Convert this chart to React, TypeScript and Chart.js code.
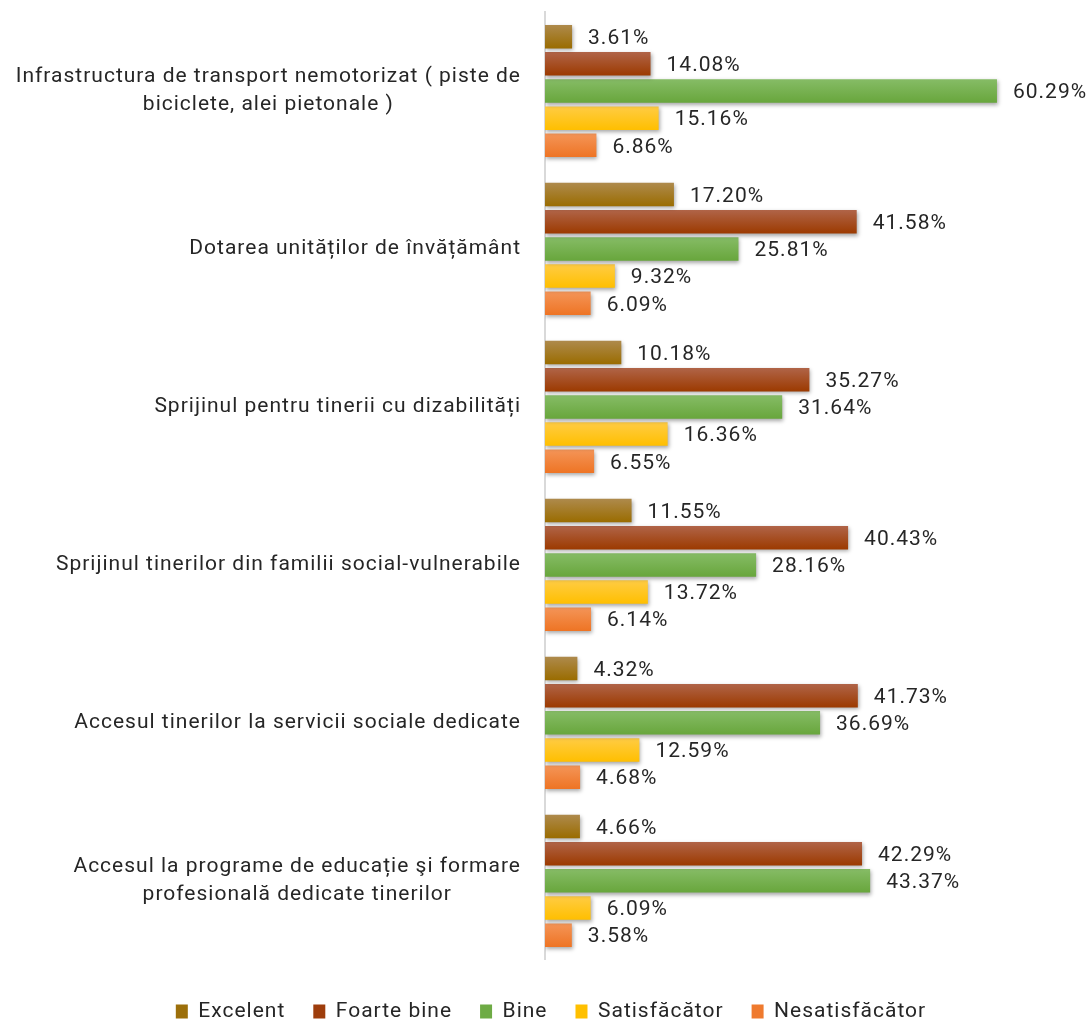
import React, { useEffect, useRef } from "react";
import { Chart, registerables } from "chart.js";

Chart.register(...registerables);

const categories: string[][] = [
  ["Infrastructura de transport nemotorizat ( piste de", "biciclete, alei pietonale )"],
  ["Dotarea unităților de învățământ"],
  ["Sprijinul pentru tinerii cu dizabilități"],
  ["Sprijinul tinerilor din familii social-vulnerabile"],
  ["Accesul tinerilor la servicii sociale dedicate"],
  ["Accesul la programe de educație şi formare", "profesională dedicate tinerilor"],
];

const seriesNames = ["Excelent", "Foarte bine", "Bine", "Satisfăcător", "Nesatisfăcător"];

const excelent = [3.61, 17.2, 10.18, 11.55, 4.32, 4.66];
const foarteBine = [14.08, 41.58, 35.27, 40.43, 41.73, 42.29];
const bine = [60.29, 25.81, 31.64, 28.16, 36.69, 43.37];
const satisfacator = [15.16, 9.32, 16.36, 13.72, 12.59, 6.09];
const nesatisfacator = [6.86, 6.09, 6.55, 6.14, 4.68, 3.58];

const seriesValues = [excelent, foarteBine, bine, satisfacator, nesatisfacator];

const solidColors = ["#9C6F0A", "#9E3D0C", "#6EAB45", "#FFC000", "#EF7A2E"];
const topColors = ["#AE8A4C", "#B06448", "#86BC66", "#FFCC44", "#F49558"];
const bottomColors = ["#9A6C00", "#9C3A00", "#68A63C", "#FFBF00", "#EE7424"];

const CAT_PCT = 0.86;
const BAR_PCT = 0.865;
const FONT = "Roboto";
const FONT_SIZE = 21;
const LINE_HEIGHT = 28;
const LABEL_PAD = 24;
const LETTER_SPACING = "1px";
const TEXT_COLOR = "#262626";

function gradientFor(i: number) {
  return (ctx: any) => {
    const chart = ctx.chart;
    const yScale = chart.scales && chart.scales.y;
    const area = chart.chartArea;
    if (!yScale || !area || ctx.type !== "data") return bottomColors[i];
    const n = chart.data.labels.length;
    const cat = (area.bottom - area.top) / n;
    const size = cat * CAT_PCT;
    const slot = size / seriesValues.length;
    const center = yScale.getPixelForValue(ctx.dataIndex) - size / 2 + (ctx.datasetIndex + 0.5) * slot;
    const h = slot * BAR_PCT;
    const g = chart.ctx.createLinearGradient(0, center - h / 2, 0, center + h / 2);
    g.addColorStop(0, topColors[i]);
    g.addColorStop(1, bottomColors[i]);
    return g;
  };
}

const spacingPlugin = {
  id: "letterSpacing",
  beforeInit(chart: any) {
    chart.ctx.letterSpacing = LETTER_SPACING;
  },
  beforeLayout(chart: any) {
    chart.ctx.letterSpacing = LETTER_SPACING;
  },
  beforeDraw(chart: any) {
    chart.ctx.letterSpacing = LETTER_SPACING;
  },
};

const shadowPlugin = {
  id: "barShadow",
  beforeDatasetsDraw(chart: any) {
    const c = chart.ctx;
    c.save();
    c.shadowColor = "rgba(0,0,0,0.35)";
    c.shadowBlur = 4;
    c.shadowOffsetX = 1;
    c.shadowOffsetY = 2;
  },
  afterDatasetsDraw(chart: any) {
    chart.ctx.restore();
  },
};

const valueLabelPlugin = {
  id: "valueLabels",
  afterDatasetsDraw(chart: any) {
    const c = chart.ctx;
    c.save();
    c.letterSpacing = LETTER_SPACING;
    c.font = `${FONT_SIZE}px ${FONT}`;
    c.fillStyle = TEXT_COLOR;
    c.textAlign = "left";
    c.textBaseline = "middle";
    chart.data.datasets.forEach((ds: any, di: number) => {
      const meta = chart.getDatasetMeta(di);
      meta.data.forEach((el: any, i: number) => {
        const v = ds.data[i] as number;
        c.fillText(v.toFixed(2) + "%", el.x + 16, el.y + 2);
      });
    });
    c.restore();
  },
};

// Category labels: block right-aligned to the axis, lines centred within the block
const categoryLabelPlugin = {
  id: "categoryLabels",
  afterDraw(chart: any) {
    const c = chart.ctx;
    const yScale = chart.scales.y;
    c.save();
    c.letterSpacing = LETTER_SPACING;
    c.font = `${FONT_SIZE}px ${FONT}`;
    c.fillStyle = TEXT_COLOR;
    c.textAlign = "center";
    c.textBaseline = "middle";
    const right = yScale.right - LABEL_PAD;
    (chart.data.labels as string[][]).forEach((lines, i) => {
      const cy = yScale.getPixelForValue(i);
      const maxW = Math.max(...lines.map((l) => c.measureText(l).width));
      lines.forEach((l, j) => {
        const y = cy + (j - (lines.length - 1) / 2) * LINE_HEIGHT;
        c.fillText(l, right - maxW / 2, y);
      });
    });
    c.restore();
  },
};

export default function App() {
  const ref = useRef<HTMLCanvasElement | null>(null);

  useEffect(() => {
    if (!ref.current) return;
    const chart = new Chart(ref.current, {
      type: "bar",
      data: {
        labels: categories,
        datasets: seriesNames.map((name, i) => ({
          label: name,
          data: seriesValues[i],
          backgroundColor: gradientFor(i),
          borderWidth: 0,
          categoryPercentage: CAT_PCT,
          barPercentage: BAR_PCT,
        })),
      },
      options: {
        indexAxis: "y",
        animation: false,
        responsive: true,
        maintainAspectRatio: false,
        layout: { padding: { top: 12, bottom: -10, left: 12, right: 1 } },
        scales: {
          x: { display: false, min: 0, max: 72.7 },
          y: {
            afterFit: (scale: any) => {
              scale.width = 533;
              scale.paddingTop = 0;
              scale.paddingBottom = 0;
            },
            grid: { display: false, drawTicks: false },
            border: { display: true, color: "#D9D9D9", width: 2 },
            ticks: { display: false },
          },
        },
        plugins: {
          tooltip: { enabled: false },
          legend: {
            position: "bottom",
            title: { display: true, text: "", font: { size: 11, lineHeight: 1.2 }, padding: 0 },
            labels: {
              boxWidth: 12,
              boxHeight: 14,
              padding: 28,
              color: TEXT_COLOR,
              font: { family: FONT, size: FONT_SIZE },
              generateLabels: (ch: any) =>
                ch.data.datasets.map((ds: any, i: number) => ({
                  text: ds.label,
                  fillStyle: solidColors[i],
                  strokeStyle: solidColors[i],
                  lineWidth: 0,
                  hidden: false,
                  datasetIndex: i,
                  fontColor: TEXT_COLOR,
                })),
            },
          },
        },
      },
      plugins: [spacingPlugin, shadowPlugin, valueLabelPlugin, categoryLabelPlugin],
    } as any);
    return () => chart.destroy();
  }, []);

  return (
    <div style={{ position: "fixed", left: 0, top: 0, width: 1091, height: 1022, background: "#fff" }}>
      <canvas ref={ref} />
    </div>
  );
}
